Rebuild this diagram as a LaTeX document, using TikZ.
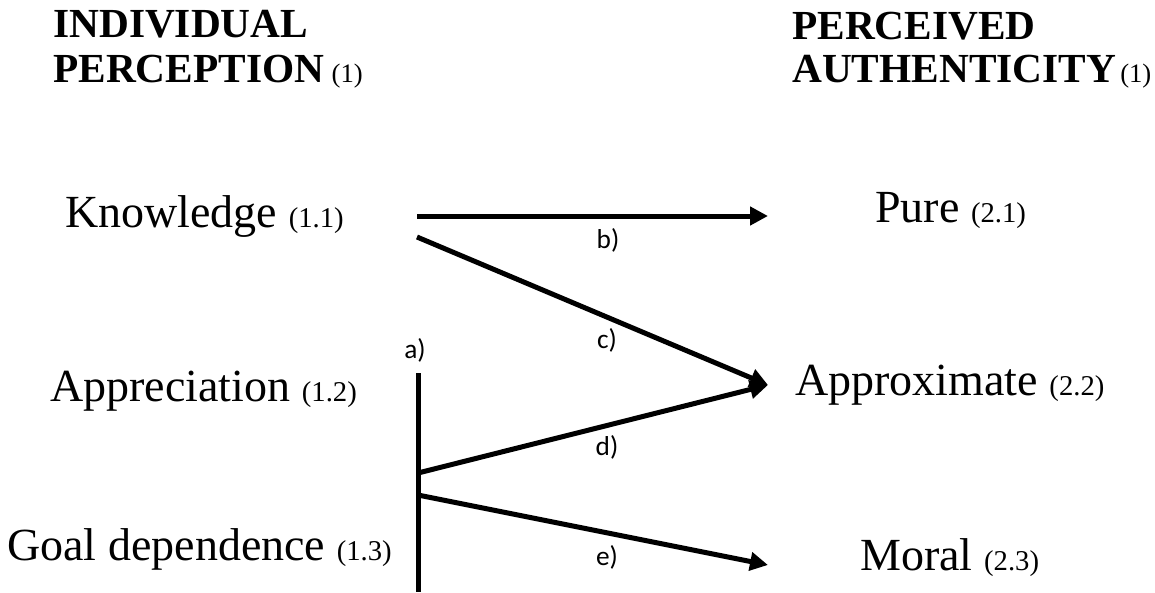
\documentclass[tikz,border=0pt]{standalone}
\usepackage{fontspec}
\setmainfont{Liberation Serif}
\newfontfamily\lblfont{Carlito}
\usetikzlibrary{arrows.meta}
\newcommand\smpar[1]{{\fontsize{21.5}{24}\selectfont\mdseries #1}}
\newcommand\hdpar[1]{{\fontsize{20}{24}\selectfont\mdseries #1}}
\begin{document}
\begin{tikzpicture}[x=0.75pt,y=-0.75pt,
  txt/.style={anchor=base west, inner sep=0pt, font=\fontsize{34.5}{40}\selectfont},
  hdr/.style={anchor=base west, inner sep=0pt, font=\fontsize{31}{36}\selectfont\bfseries},
  lbl/.style={font=\lblfont\fontsize{20.5}{22}\selectfont, inner sep=0pt},
  conn/.style={line width=3.75pt},
  arr/.style={conn, -{Triangle[length=13.5pt,width=13.5pt]}}]
\useasboundingbox (0,0) rectangle (1155,592);
% headers
\node[hdr] (h1a) at (53,38) {INDIVIDUAL};
\node[hdr] (h1b) at (53,82) {PERCEPTION\hspace{0.18em}\hdpar{(1)}};
\node[hdr] (h2a) at (792,40) {PERCEIVED};
\node[hdr] (h2b) at (792,83) {AUTHENTICITY\hspace{0.1em}\hdpar{(1)}};
% left items
\node[txt] (know) at (65,227) {Knowledge \smpar{(1.1)}};
\node[txt] (appr) at (50,401) {Appreciation \smpar{(1.2)}};
\node[txt] (goal) at (7,560) {Goal dependence \smpar{(1.3)}};
% right items
\node[txt] (pure) at (875,222) {Pure \smpar{(2.1)}};
\node[txt] (approx) at (795,395) {Approximate \smpar{(2.2)}};
\node[txt] (moral) at (860,570) {Moral \smpar{(2.3)}};
% connector points
\coordinate (bS) at (417,216);
\coordinate (bE) at (768,216);
\coordinate (cS) at (417,237);
\coordinate (cdE) at (768,385);
\coordinate (vT) at (418,373);
\coordinate (vB) at (418,592);
\coordinate (dS) at (418,473);
\coordinate (eS) at (418,495);
\coordinate (eE) at (768,565);
% connectors
\draw[arr] (bS) -- (bE);
\draw[arr] (cS) -- (cdE);
\draw[conn] (vT) -- (vB);
\draw[arr] (dS) -- (cdE);
\draw[arr] (eS) -- (eE);
% labels
\node[lbl] (la) at (415,350) {a)};
\node[lbl] (lb) at (608,240) {b)};
\node[lbl] (lc) at (607,340) {c)};
\node[lbl] (ld) at (607,447) {d)};
\node[lbl] (le) at (607,557) {e)};
\end{tikzpicture}
\end{document}
